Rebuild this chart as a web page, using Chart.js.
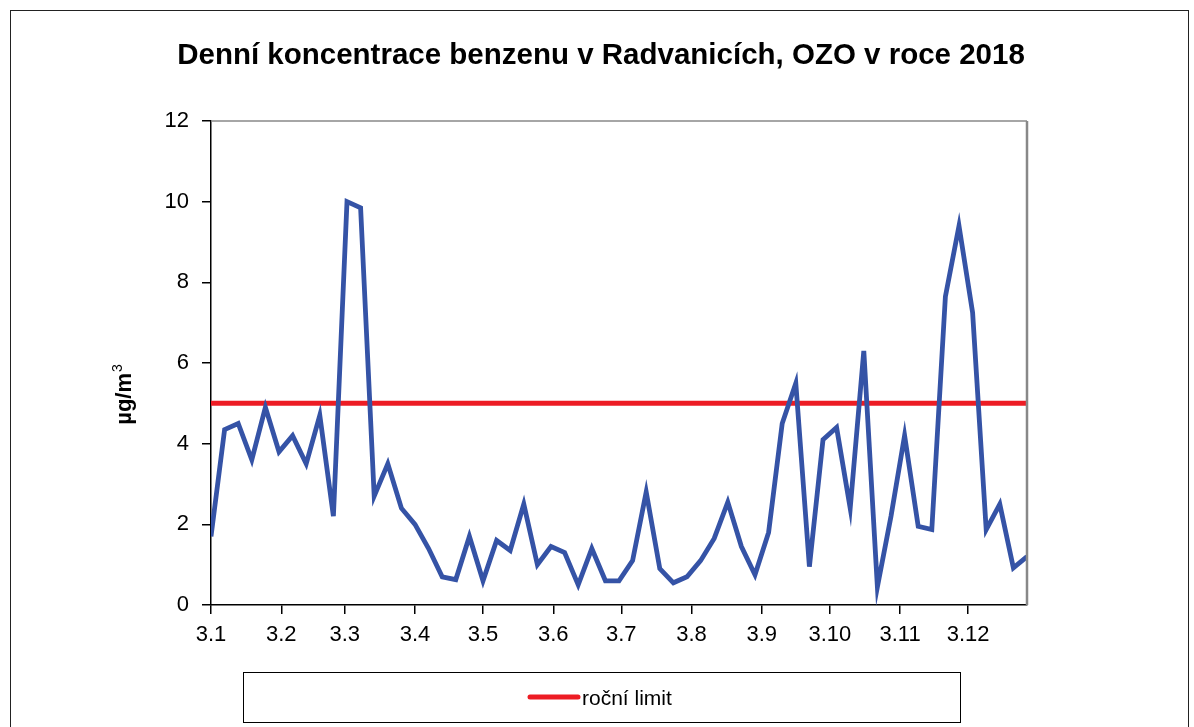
<!DOCTYPE html>
<html>
<head>
<meta charset="utf-8">
<script src="https://cdn.jsdelivr.net/npm/chart.js@4.4.1/dist/chart.umd.min.js"></script>
<style>
  html, body { margin: 0; padding: 0; background: #fff; }
  canvas { display: block; }
</style>
</head>
<body>
<canvas id="benzenChart" width="1194" height="727"></canvas>
<script>
const chartTitle = 'Denní koncentrace benzenu v Radvanicích, OZO v roce 2018';
const unitLabel = 'µg/m';
const unitPower = '3';
const limitLabel = 'roční limit';
const limitValue = 5;

// sampling days counted from 3 January, every sixth day
const sampleDays = [0, 6, 12, 18, 24, 30, 36, 42, 48, 54, 60, 66, 72, 78, 84, 90, 96, 102, 108, 114,
  120, 126, 132, 138, 144, 150, 156, 162, 168, 174, 180, 186, 192, 198, 204, 210, 216, 222, 228, 234,
  240, 246, 252, 258, 264, 270, 276, 282, 288, 294, 300, 306, 312, 318, 324, 330, 336, 342, 348, 354, 360];
const benzene = [1.7, 4.35, 4.5, 3.6, 4.9, 3.8, 4.2, 3.5, 4.7, 2.2,
  10.0, 9.85, 2.7, 3.5, 2.4, 2.0, 1.4, 0.7, 0.63, 1.7,
  0.6, 1.6, 1.35, 2.5, 1.0, 1.45, 1.3, 0.5, 1.4, 0.6,
  0.6, 1.1, 2.8, 0.9, 0.55, 0.7, 1.1, 1.65, 2.55, 1.45,
  0.75, 1.8, 4.5, 5.5, 0.95, 4.1, 4.4, 2.4, 6.3, 0.45,
  2.2, 4.2, 1.95, 1.87, 7.65, 9.4, 7.25, 1.87, 2.5, 0.92, 1.2];

// month ticks on the x axis
const monthDays = [0, 31, 59, 90, 120, 151, 181, 212, 243, 273, 304, 334];
const monthLabels = ['3.1', '3.2', '3.3', '3.4', '3.5', '3.6', '3.7', '3.8', '3.9', '3.10', '3.11', '3.12'];

const FONT = '"Liberation Sans", Arial, sans-serif';
const BLUE = '#3553a6';
const RED = '#ed1c24';

Chart.defaults.font.family = FONT;
Chart.defaults.color = '#000';

// title, unit label, plot frame and legend box
const decorations = {
  id: 'decorations',
  afterDraw(chart) {
    const ctx = chart.ctx;
    const area = chart.chartArea;
    ctx.save();

    // outer frame
    ctx.strokeStyle = '#222';
    ctx.lineWidth = 1;
    ctx.strokeRect(10.5, 10.5, 1178, 800);

    // grey top and right edge of the plot
    ctx.strokeStyle = '#888';
    ctx.lineWidth = 1.5;
    ctx.beginPath();
    ctx.moveTo(area.left, area.top);
    ctx.lineTo(area.right, area.top);
    ctx.stroke();
    ctx.lineWidth = 2.5;
    ctx.beginPath();
    ctx.moveTo(area.right, area.top);
    ctx.lineTo(area.right, area.bottom);
    ctx.stroke();

    // title
    ctx.fillStyle = '#000';
    ctx.font = 'bold 29.5px ' + FONT;
    ctx.textAlign = 'center';
    ctx.textBaseline = 'alphabetic';
    ctx.fillText(chartTitle, 601, 64);

    // y axis unit, rotated, with superscript
    ctx.save();
    ctx.translate(131, 395);
    ctx.rotate(-Math.PI / 2);
    ctx.font = 'bold 22px ' + FONT;
    const w1 = ctx.measureText(unitLabel).width;
    ctx.font = '14px ' + FONT;
    const w2 = ctx.measureText(unitPower).width;
    const x0 = -(w1 + w2) / 2;
    ctx.textAlign = 'left';
    ctx.font = 'bold 22px ' + FONT;
    ctx.fillText(unitLabel, x0, 0);
    ctx.font = '14px ' + FONT;
    ctx.fillText(unitPower, x0 + w1 + 1, -9);
    ctx.restore();

    // legend box with the limit line only
    const limit = chart.data.datasets[1];
    ctx.strokeStyle = '#000';
    ctx.lineWidth = 1;
    ctx.strokeRect(243.5, 672.5, 717, 50);
    ctx.strokeStyle = limit.borderColor;
    ctx.lineWidth = 5;
    ctx.lineCap = 'round';
    ctx.beginPath();
    ctx.moveTo(530, 697);
    ctx.lineTo(578, 697);
    ctx.stroke();
    ctx.fillStyle = '#000';
    ctx.font = '21px ' + FONT;
    ctx.textAlign = 'left';
    ctx.fillText(limit.label, 582, 705);

    ctx.restore();
  }
};

new Chart(document.getElementById('benzenChart'), {
  type: 'line',
  data: {
    datasets: [
      {
        label: 'benzen',
        data: sampleDays.map((d, i) => ({ x: d, y: benzene[i] })),
        borderColor: BLUE,
        borderWidth: 4.8,
        pointRadius: 0,
        tension: 0,
        borderJoinStyle: 'miter'
      },
      {
        label: limitLabel,
        data: [{ x: sampleDays[0], y: limitValue }, { x: sampleDays[sampleDays.length - 1], y: limitValue }],
        borderColor: RED,
        borderWidth: 5,
        pointRadius: 0
      }
    ]
  },
  options: {
    responsive: false,
    animation: false,
    layout: { padding: { left: 0, top: 121, right: 167, bottom: 82 } },
    plugins: {
      legend: { display: false },
      title: { display: false },
      tooltip: { enabled: false }
    },
    scales: {
      x: {
        type: 'linear',
        min: 0,
        max: 360,
        afterBuildTicks: (scale) => { scale.ticks = monthDays.map(v => ({ value: v })); },
        afterFit: (scale) => { scale.height = 40; },
        grid: { drawOnChartArea: false, drawTicks: true, tickLength: 9, color: '#000', lineWidth: 1.5 },
        border: { display: true, color: '#000', width: 1.5 },
        ticks: {
          autoSkip: false,
          maxRotation: 0,
          padding: 8,
          font: { size: 22 },
          callback: (v) => monthLabels[monthDays.indexOf(v)]
        }
      },
      y: {
        min: 0,
        max: 12,
        afterFit: (scale) => { scale.width = 211; },
        grid: { drawOnChartArea: false, drawTicks: true, tickLength: 9, color: '#000', lineWidth: 1.5 },
        border: { display: true, color: '#000', width: 1.5 },
        ticks: { stepSize: 2, padding: 13, font: { size: 22 } }
      }
    }
  },
  plugins: [decorations]
});
</script>
</body>
</html>
